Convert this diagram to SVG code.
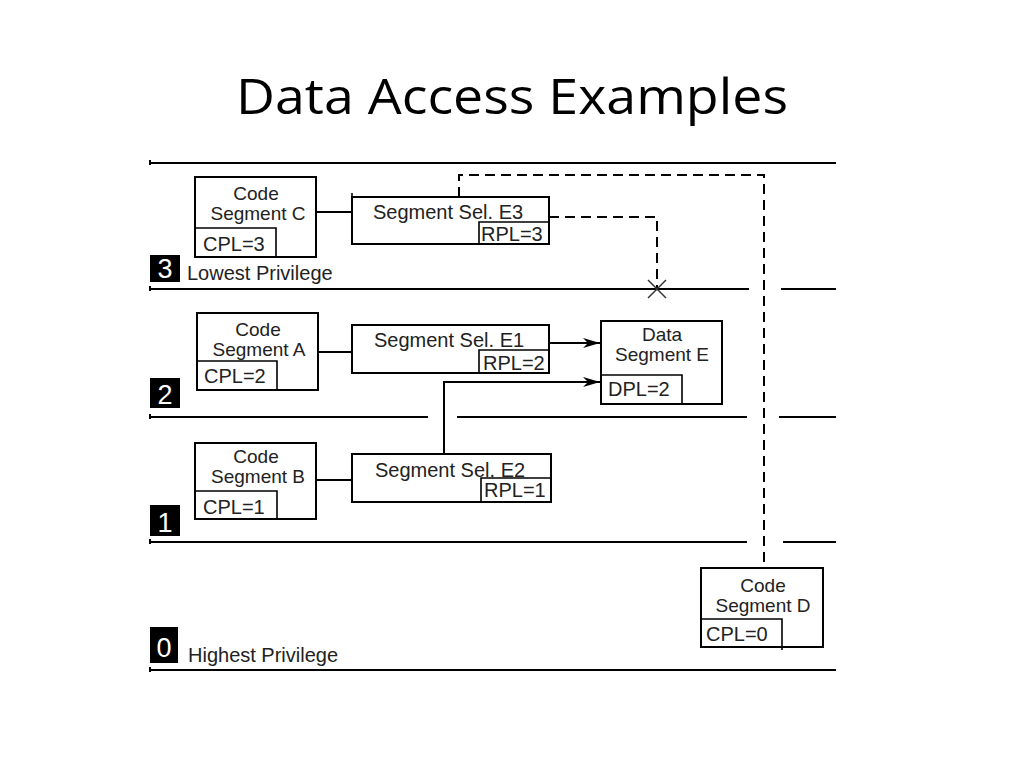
<svg xmlns="http://www.w3.org/2000/svg" width="1024" height="768" viewBox="0 0 1024 768">
<defs>
<style>
.ln{stroke:#000;stroke-width:2;fill:none}
.bx{stroke:#000;stroke-width:2;fill:#fff}
.sb{stroke:#000;stroke-width:1.6;fill:none}
.ds{stroke:#000;stroke-width:2;fill:none;stroke-dasharray:10 6}
.t{font-family:"Liberation Sans",Arial,sans-serif;font-size:20px;fill:#222}
.n{font-family:"Liberation Sans",Arial,sans-serif;font-size:19px;fill:#222;text-anchor:middle}
.bd{fill:#000}
.bn{font-family:"Liberation Sans",Arial,sans-serif;font-size:27px;fill:#fff;text-anchor:middle}
</style>
<marker id="ah" markerWidth="18" markerHeight="12" refX="17" refY="6" orient="auto" markerUnits="userSpaceOnUse">
<path d="M0,1 L17,6 L0,11 L5,6 Z" fill="#000"/>
</marker>
</defs>
<rect width="1024" height="768" fill="#fff"/>
<text x="512" y="114" text-anchor="middle" font-family="'Open Sans','Liberation Sans',sans-serif" font-size="50" fill="#000" textLength="552" lengthAdjust="spacingAndGlyphs">Data Access Examples</text>

<g id="levels">
<path class="ln" d="M150,163 H836 M150,289 H749 M781,289 H836 M150,417 H428 M457,417 H747 M779,417 H836 M150,542 H747 M783,542 H836 M150,670 H836"/>
<path class="ln" d="M150,160 v5 M150,286 v5 M150,414 v5 M150,539 v5 M150,667 v5"/>
<rect class="bd" x="150" y="255" width="30" height="27"/>
<text class="bn" x="165" y="278">3</text>
<text class="t" x="187" y="280">Lowest Privilege</text>
<rect class="bd" x="150" y="378" width="30" height="30"/>
<text class="bn" x="165" y="404">2</text>
<rect class="bd" x="150" y="505" width="30" height="31"/>
<text class="bn" x="165" y="532">1</text>
<rect class="bd" x="150" y="627" width="28" height="36"/>
<text class="bn" x="164" y="657">0</text>
<text class="t" x="188" y="662">Highest Privilege</text>
</g>

<g id="connectors">
<path class="ln" d="M316,212 H352"/>
<path class="ln" d="M318,352 H352"/>
<path class="ln" d="M317,480 H352"/>
<path class="ln" d="M549,343 H600" marker-end="url(#ah)"/>
<path class="ln" d="M444,454 V382 H600" marker-end="url(#ah)"/>
<path class="ds" d="M459,197 V175 H764 V568"/>
<path class="ds" d="M549,217 H657 V289"/>
<path d="M648,280 L666,298 M666,280 L648,298" stroke="#333" stroke-width="1.5" fill="none"/>
</g>

<g id="codeC">
<rect class="bx" x="195" y="177" width="121" height="80"/>
<path class="sb" d="M195,228 H276 V257"/>
<text class="n" x="256" y="200">Code</text>
<text class="n" x="258" y="220">Segment C</text>
<text class="t" x="203" y="251">CPL=3</text>
</g>

<g id="selE3">
<rect class="bx" x="352" y="197" width="197" height="47"/>
<path class="sb" d="M352,193 V197"/>
<path class="sb" d="M479,244 V222 H549"/>
<text class="t" x="373" y="219">Segment Sel. E3</text>
<text class="t" x="481" y="241">RPL=3</text>
</g>

<g id="codeA">
<rect class="bx" x="197" y="313" width="121" height="77"/>
<path class="sb" d="M197,361 H277 V390"/>
<text class="n" x="258" y="336">Code</text>
<text class="n" x="259" y="356">Segment A</text>
<text class="t" x="204" y="383">CPL=2</text>
</g>

<g id="selE1">
<rect class="bx" x="352" y="325" width="197" height="48"/>
<path class="sb" d="M479,373 V350 H549"/>
<text class="t" x="374" y="347">Segment Sel. E1</text>
<text class="t" x="483" y="370">RPL=2</text>
</g>

<g id="dataE">
<rect class="bx" x="601" y="321" width="121" height="83"/>
<path class="sb" d="M601,375 H682 V404"/>
<text class="n" x="662" y="341">Data</text>
<text class="n" x="662" y="361">Segment E</text>
<text class="t" x="608" y="396">DPL=2</text>
</g>

<g id="codeB">
<rect class="bx" x="195" y="443" width="121" height="76"/>
<path class="sb" d="M195,491 H277 V519"/>
<text class="n" x="256" y="463">Code</text>
<text class="n" x="258" y="483">Segment B</text>
<text class="t" x="203" y="514">CPL=1</text>
</g>

<g id="selE2">
<rect class="bx" x="352" y="454" width="199" height="48"/>
<path class="sb" d="M481,502 V478 H551"/>
<text class="t" x="375" y="477">Segment Sel. E2</text>
<text class="t" x="484" y="497">RPL=1</text>
</g>

<g id="codeD">
<rect class="bx" x="701" y="568" width="122" height="79"/>
<path class="sb" d="M701,619 H782 V650"/>
<text class="n" x="763" y="592">Code</text>
<text class="n" x="763" y="612">Segment D</text>
<text class="t" x="706" y="641">CPL=0</text>
</g>
</svg>
